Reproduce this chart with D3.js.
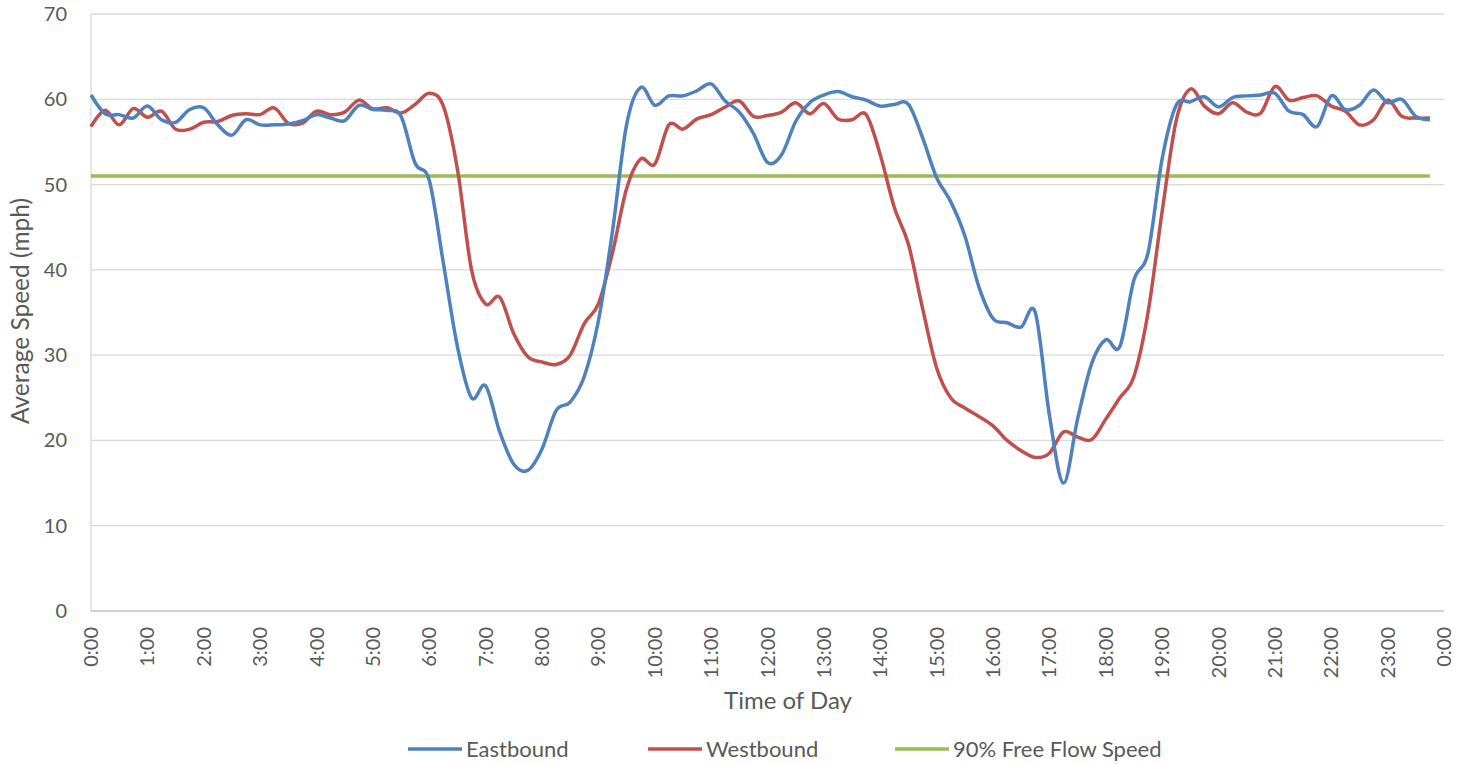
<!DOCTYPE html>
<html>
<head>
<meta charset="utf-8">
<script src="https://cdn.jsdelivr.net/npm/d3@7"></script>
<style>
  body { margin: 0; background: #fff; }
  text { font-family: Lato, "Open Sans", sans-serif; fill: #595959; }
</style>
</head>
<body>
<div class="chart"></div>
<script>
const width = 1461
const height = 764

// 15-minute averages, 0:00 .. 23:45
const eastbound = [
  60.5, 58.3, 58.2, 57.8, 59.2, 57.6, 57.3, 58.8, 59.0, 57.0, 55.8, 57.6,
  57.0, 57.0, 57.1, 57.5, 58.2, 57.8, 57.5, 59.3, 58.8, 58.7, 58.0, 52.5,
  50.5, 40.8, 31.0, 25.0, 26.4, 21.0, 17.2, 16.5, 19.0, 23.5, 24.5, 27.5,
  34.0, 44.5, 57.0, 61.4, 59.3, 60.4, 60.4, 61.0, 61.8, 59.8, 58.5, 56.0,
  52.6, 53.5, 57.4, 59.6, 60.5, 60.9, 60.3, 59.9, 59.2, 59.4, 59.4, 55.5,
  50.8, 48.0, 44.0, 38.0, 34.3, 33.8, 33.3, 35.0, 23.0, 15.0, 22.5, 29.0,
  31.8, 31.0, 38.8, 42.0, 53.0, 59.3, 59.7, 60.3, 59.1, 60.2, 60.4, 60.5,
  60.7, 58.6, 58.2, 56.8, 60.4, 58.8, 59.3, 61.1, 59.6, 60.0, 58.0, 57.6
]
const westbound = [
  56.8, 58.7, 57.0, 58.9, 57.9, 58.6, 56.5, 56.5, 57.3, 57.4, 58.1, 58.3,
  58.2, 59.0, 57.2, 57.2, 58.6, 58.2, 58.5, 59.9, 58.9, 59.0, 58.4, 59.4,
  60.7, 59.2, 51.8, 40.0, 36.0, 36.8, 32.5, 29.8, 29.2, 28.9, 30.0, 33.7,
  36.0, 42.0, 49.5, 53.0, 52.4, 57.0, 56.5, 57.7, 58.2, 59.1, 59.8, 58.0,
  58.1, 58.5, 59.6, 58.3, 59.5, 57.7, 57.6, 58.2, 53.5, 47.3, 43.0, 35.5,
  28.5, 25.0, 23.8, 22.8, 21.7, 20.0, 18.8, 18.0, 18.5, 21.0, 20.4, 20.1,
  22.5, 25.0, 27.5, 35.0, 46.8, 57.5, 61.2, 59.2, 58.3, 59.6, 58.5, 58.4,
  61.5, 59.9, 60.2, 60.4, 59.2, 58.6, 57.0, 57.6, 59.9, 58.0, 57.8, 57.8
]
const freeFlow90 = 51

const hourLabels = ["0:00", "1:00", "2:00", "3:00", "4:00", "5:00", "6:00", "7:00",
  "8:00", "9:00", "10:00", "11:00", "12:00", "13:00", "14:00", "15:00", "16:00",
  "17:00", "18:00", "19:00", "20:00", "21:00", "22:00", "23:00", "0:00"]
const yTicks = [0, 10, 20, 30, 40, 50, 60, 70]

const legendData = [
  { text: "Eastbound", color: "#4f81bd" },
  { text: "Westbound", color: "#c0504d" },
  { text: "90% Free Flow Speed", color: "#9bbb59" }
]

const svg = d3.select(".chart").append("svg")
  .attr("width", width)
  .attr("height", height)

let x = d3.scaleLinear().domain([0, 96]).range([91, 1444])
let y = d3.scaleLinear().domain([0, 70]).range([611, 14])

// gridlines
svg.selectAll(".grid")
  .data(yTicks.filter(d => d > 0))
  .enter()
  .append("line")
  .attr("x1", x(0))
  .attr("x2", x(96))
  .attr("y1", d => y(d))
  .attr("y2", d => y(d))
  .style("stroke", "#d9d9d9")
  .style("stroke-width", "1.3px")

// axes lines
svg.append("line")
  .attr("x1", x(0)).attr("x2", x(0))
  .attr("y1", y(0)).attr("y2", y(70))
  .style("stroke", "#d9d9d9").style("stroke-width", "1.3px")
svg.append("line")
  .attr("x1", x(0)).attr("x2", x(96))
  .attr("y1", y(0)).attr("y2", y(0))
  .style("stroke", "#bfbfbf").style("stroke-width", "1.3px")

// y tick labels
svg.selectAll(".ylab")
  .data(yTicks)
  .enter()
  .append("text")
  .attr("x", 67)
  .attr("y", d => y(d))
  .attr("dy", "0.35em")
  .attr("text-anchor", "end")
  .style("font-size", "20px")
  .text(d => d)

// x tick labels (every hour = 4 points)
svg.selectAll(".xlab")
  .data(hourLabels)
  .enter()
  .append("text")
  .attr("transform", (d, i) => "translate(" + x(i * 4) + ",627) rotate(-90)")
  .attr("dy", "0.35em")
  .attr("text-anchor", "end")
  .style("font-size", "20px")
  .text(d => d)

// axis titles
svg.append("text")
  .attr("x", 788)
  .attr("y", 709)
  .attr("text-anchor", "middle")
  .style("font-size", "24px")
  .text("Time of Day")

svg.append("text")
  .attr("transform", "translate(29," + 311 + ") rotate(-90)")
  .attr("text-anchor", "middle")
  .style("font-size", "24.5px")
  .text("Average Speed (mph)")

const line = d3.line()
  .x((d, i) => x(i))
  .y(d => y(d))
  .curve(d3.curveCatmullRom.alpha(0))

svg.append("path")
  .datum(eastbound.map(() => freeFlow90))
  .attr("d", line)
  .style("fill", "none")
  .style("stroke", "#9bbb59")
  .style("stroke-width", "3.5px")

svg.append("path")
  .datum(westbound)
  .attr("d", line)
  .style("fill", "none")
  .style("stroke", "#c0504d")
  .style("stroke-width", "3.5px")

svg.append("path")
  .datum(eastbound)
  .attr("d", line)
  .style("fill", "none")
  .style("stroke", "#4f81bd")
  .style("stroke-width", "3.5px")

// legend
const legendX = [408, 648, 895]
const legendItems = svg.selectAll(".legend-item")
  .data(legendData)
  .enter()
  .append("g")
  .attr("transform", (d, i) => "translate(" + legendX[i] + ",749)")

legendItems.append("line")
  .attr("x1", 0).attr("x2", 54)
  .attr("y1", 0).attr("y2", 0)
  .style("stroke", d => d.color)
  .style("stroke-width", "3.5px")

legendItems.append("text")
  .attr("x", 58)
  .attr("dy", "0.35em")
  .style("font-size", "22px")
  .text(d => d.text)
</script>
</body>
</html>
